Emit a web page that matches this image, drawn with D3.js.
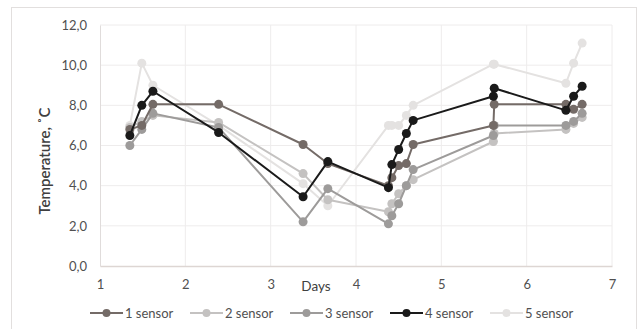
<!DOCTYPE html>
<html><head><meta charset="utf-8">
<script src="https://cdn.jsdelivr.net/npm/d3@7"></script>
<style>body{margin:0;background:#fff;}svg{display:block;}</style>
</head><body>
<script>
const days = [1.35, 1.49, 1.62, 2.39, 3.38, 3.67, 4.38, 4.42, 4.50, 4.59, 4.67, 5.61, 5.62, 6.46, 6.55, 6.65];
const sensor1 = [6.8, 7.0, 8.05, 8.05, 6.05, 5.1, 4.0, 4.4, 5.0, 5.1, 6.05, 7.0, 8.05, 8.05, 7.8, 8.05];
const sensor2 = [6.9, 7.2, 7.5, 7.15, 4.6, 3.3, 2.7, 3.1, 3.6, 4.0, 4.3, 6.2, 6.6, 6.8, 7.1, 7.4];
const sensor3 = [6.0, 6.8, 7.6, 6.9, 2.2, 3.85, 2.1, 2.5, 3.1, 4.0, 4.8, 6.5, 7.0, 7.0, 7.2, 7.6];
const sensor4 = [6.5, 8.0, 8.7, 6.65, 3.45, 5.2, 3.9, 5.05, 5.8, 6.6, 7.25, 8.45, 8.85, 7.75, 8.45, 8.95];
const sensor5 = [7.0, 10.1, 9.0, 7.0, 4.1, 3.0, 7.0, 7.0, 7.0, 7.5, 8.0, 10.05, 10.05, 9.1, 10.1, 11.1];
const seriesNames = ["1 sensor", "2 sensor", "3 sensor", "4 sensor", "5 sensor"];
const seriesColors = ["#746b67", "#c4c2c1", "#9d9b9a", "#1a1a1a", "#e4e2e1"];
const xTicks = [1, 2, 3, 4, 5, 6, 7];
const yTicks = [0, 2, 4, 6, 8, 10, 12];
const series = [sensor1, sensor2, sensor3, sensor4, sensor5];

const W = 639, H = 329;
const svg = d3.select("body").append("svg").attr("width", W).attr("height", H);
const font = "Lato, 'Open Sans', sans-serif";

// outer frame
svg.append("rect").attr("x", 11.5).attr("y", 7.5).attr("width", 625).attr("height", 340)
  .attr("fill", "#fff").attr("stroke", "#e2dfde").attr("stroke-width", 1);

const x = d3.scaleLinear().domain([1, 7]).range([100, 612]);
const y = d3.scaleLinear().domain([0, 12]).range([266, 25]);

// gridlines
const g = svg.append("g");
g.selectAll("line.h").data(yTicks.filter(d => d > 0)).join("line")
  .attr("x1", x(1)).attr("x2", x(7)).attr("y1", d => y(d)).attr("y2", d => y(d))
  .attr("stroke", "#eeecec").attr("stroke-width", 1);
g.selectAll("line.v").data(xTicks.filter(d => d > 1)).join("line")
  .attr("x1", d => x(d)).attr("x2", d => x(d)).attr("y1", y(0)).attr("y2", y(12))
  .attr("stroke", "#eeecec").attr("stroke-width", 1);

// axes
const yAxis = svg.append("g").attr("transform", `translate(${x(1)},0)`)
  .call(d3.axisLeft(y).tickValues(yTicks).tickSize(0).tickPadding(13)
    .tickFormat(d => d3.format(".1f")(d).replace(".", ",")));
yAxis.select(".domain").attr("stroke", "#e0dcdb");
yAxis.selectAll("text").attr("font-family", font).attr("font-size", 13).attr("fill", "#505050");

const xAxis = svg.append("g").attr("transform", `translate(0,${y(0)})`)
  .call(d3.axisBottom(x).tickValues(xTicks).tickSize(0).tickPadding(14).tickFormat(d3.format("d")));
xAxis.select(".domain").attr("stroke", "#ddd6d3").attr("stroke-width", 1.3);
xAxis.selectAll("text").attr("font-family", font).attr("font-size", 13).attr("fill", "#505050");

// axis titles
svg.append("text").attr("x", 316).attr("y", 291).attr("text-anchor", "middle")
  .attr("font-family", font).attr("font-size", 13.5).attr("fill", "#404040").text("Days");
svg.append("text").attr("transform", "translate(50,161) rotate(-90)").attr("text-anchor", "middle")
  .attr("font-family", font).attr("font-size", 15).attr("font-weight", 600).attr("fill", "#404040")
  .text("Temperature, ˚C");

// series
const line = d3.line().x((d, i) => x(days[i])).y(d => y(d));
const order = [4, 1, 2, 0, 3];
order.forEach(k => {
  const vals = series[k];
  svg.append("path").attr("d", line(vals)).attr("fill", "none")
    .attr("stroke", seriesColors[k]).attr("stroke-width", 2).attr("stroke-linejoin", "round");
  svg.append("g").selectAll("circle").data(vals).join("circle")
    .attr("cx", (d, i) => x(days[i])).attr("cy", d => y(d)).attr("r", 4.5)
    .attr("fill", seriesColors[k]);
});

// legend
const leg = svg.append("g").selectAll("g").data(seriesNames).join("g")
  .attr("transform", (d, i) => `translate(${90 + i * 100},313)`);
leg.append("line").attr("x1", 0).attr("x2", 33).attr("y1", 0).attr("y2", 0)
  .attr("stroke", (d, i) => seriesColors[i]).attr("stroke-width", 2);
leg.append("circle").attr("cx", 16.5).attr("cy", 0).attr("r", 4)
  .attr("fill", (d, i) => seriesColors[i]);
leg.append("text").attr("x", 35).attr("y", 4.5).attr("font-family", font).attr("font-size", 13)
  .attr("fill", "#505050").text(d => d);
</script>
</body></html>
